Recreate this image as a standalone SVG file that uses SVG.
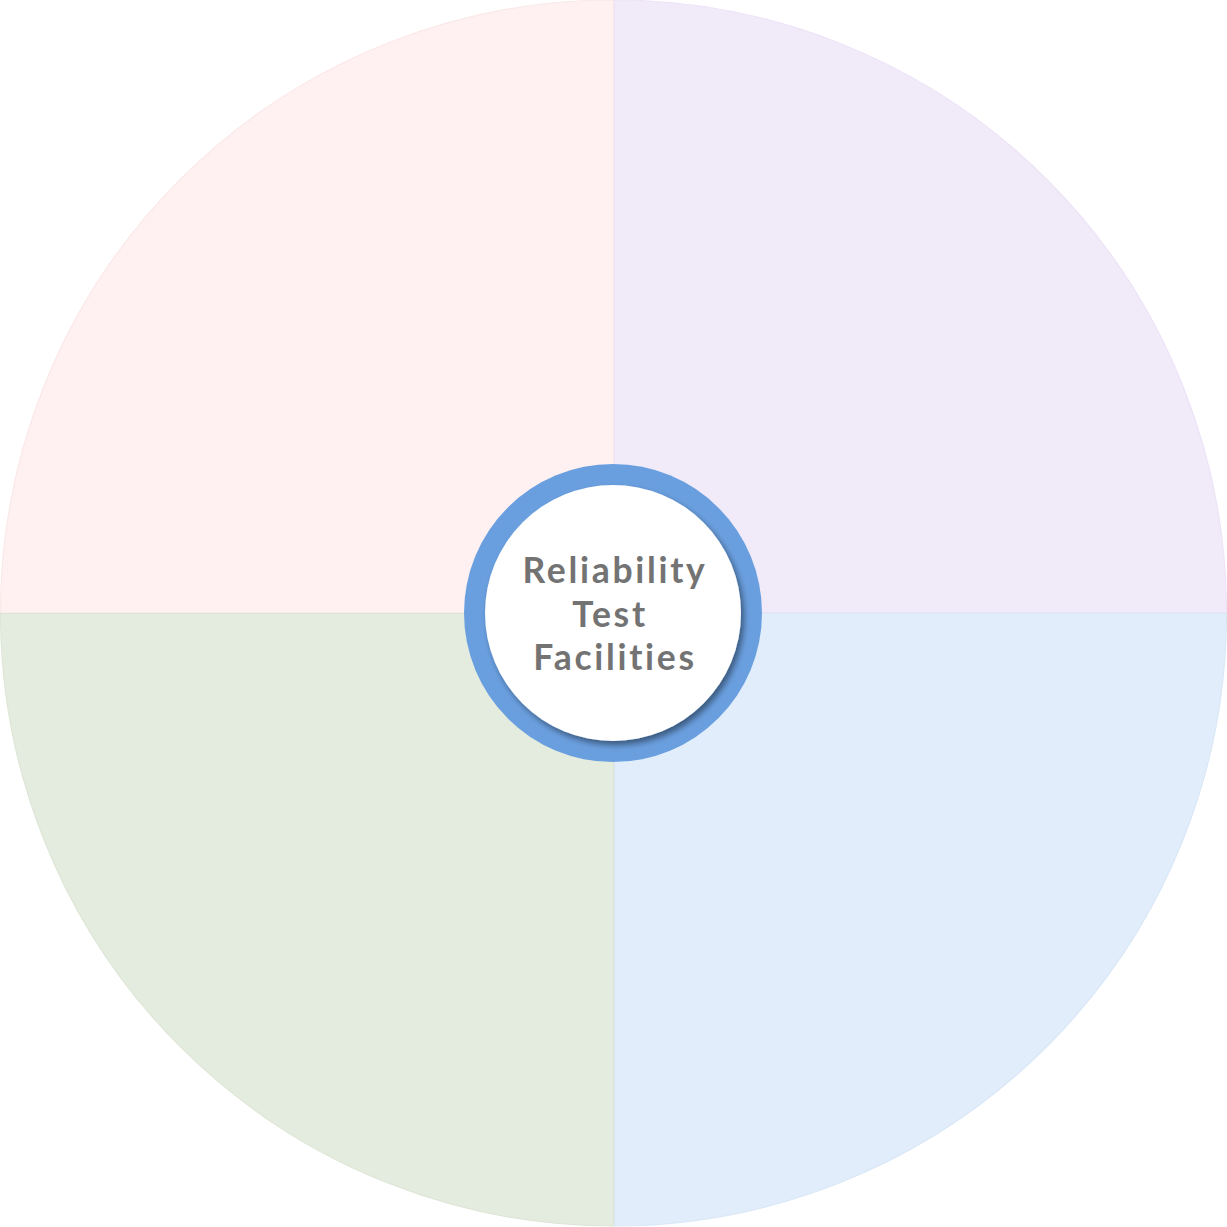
<svg xmlns="http://www.w3.org/2000/svg" width="1227" height="1227" viewBox="0 0 1227 1227">
<defs>
<style>
.q{stroke-width:1.2}
.lbl{font-family:Lato,"Noto Sans","Liberation Sans",sans-serif;font-weight:bold;font-size:35.5px;letter-spacing:2.7px;fill:#737373;text-anchor:middle}
</style>
<filter id="sh" x="-20%" y="-20%" width="140%" height="140%">
<feGaussianBlur in="SourceAlpha" stdDeviation="3"/>
<feOffset dx="3" dy="4" result="b"/>
<feComponentTransfer><feFuncA type="linear" slope="0.45"/></feComponentTransfer>
<feMerge><feMergeNode/><feMergeNode in="SourceGraphic"/></feMerge>
</filter>
</defs>
<rect width="1227" height="1227" fill="#ffffff"/>
<g id="quadrants">
<path id="q-top-left" class="q" d="M613.5 612.5 L0.5 612.5 A613 613 0 0 1 613.5 0 Z" fill="#FFF1F1" stroke="#FBE8E8"/>
<path id="q-top-right" class="q" d="M614.5 612.5 L614.5 0 A613 613 0 0 1 1226.5 612.5 Z" fill="#F1EAF9" stroke="#EDE3F7"/>
<path id="q-bottom-right" class="q" d="M614.5 613.5 L1226.5 613.5 A613 613 0 0 1 614.5 1226 Z" fill="#E1EDFA" stroke="#D9E7F7"/>
<path id="q-bottom-left" class="q" d="M613.5 613.5 L613.5 1226 A613 613 0 0 1 0.5 613.5 Z" fill="#E4ECDF" stroke="#DDE6D6"/>
</g>
<g id="connectors"></g>
<g id="center-node">
<circle cx="613" cy="613" r="149" fill="#6A9FDF"/>
<circle cx="613" cy="613" r="128" fill="#ffffff" filter="url(#sh)"/>
<text class="lbl"><tspan x="615" y="583">Reliability</tspan><tspan x="610" y="626.5">Test</tspan><tspan x="615" y="670">Facilities</tspan></text>
</g>
</svg>
